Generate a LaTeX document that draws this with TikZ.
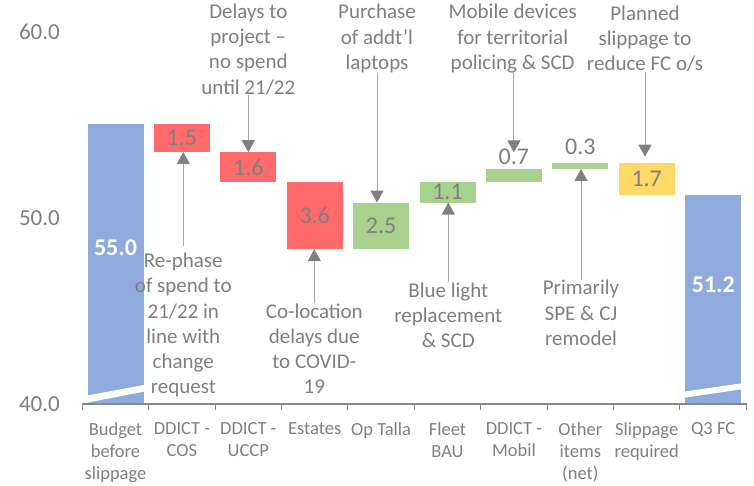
\documentclass[tikz,border=0pt]{standalone}
\usepackage{fontspec}
\setmainfont{Carlito}
\usetikzlibrary{arrows.meta,fit}
\definecolor{cblue}{HTML}{8FAADC}
\definecolor{cred}{HTML}{FF6B6B}
\definecolor{cgreen}{HTML}{A9D18E}
\definecolor{cyellow}{HTML}{FFD966}
\definecolor{tgray}{HTML}{7F7F7F}
\definecolor{lgray}{HTML}{A6A6A6}
\definecolor{agray}{HTML}{898989}
\begin{document}
\begin{tikzpicture}[x=1pt,y=-1pt,
  bar/.style={inner sep=0pt, outer sep=0pt, draw=none},
  val/.style={text=tgray, font=\fontsize{24}{29}\selectfont, inner sep=0pt},
  big/.style={text=white, font=\bfseries\fontsize{24}{29}\selectfont, inner sep=0pt},
  ann/.style={text=tgray, align=center, font=\fontsize{21}{25.2}\selectfont, inner sep=0pt},
  cat/.style={text=tgray, align=center, anchor=north, font=\fontsize{18.5}{22.3}\selectfont, inner sep=0pt},
  ylab/.style={text=tgray, anchor=east, font=\fontsize{23}{28}\selectfont, inner sep=0pt},
  arr/.style={draw=lgray, line width=0.9pt, -{Triangle[width=13pt,length=12pt,color=tgray,fill=tgray]}},
  brk/.style={fill=white, draw=none},
]
\useasboundingbox (0,0) rectangle (754,486);
% bars
\node[bar, fill=cblue,   fit={(87.5,124.25)(143.5,405)}] (b1) {};
\node[bar, fill=cred,    fit={(153.9,124.25)(209.9,152.2)}] (b2) {};
\node[bar, fill=cred,    fit={(220.3,152.2)(276.3,182.1)}] (b3) {};
\node[bar, fill=cred,    fit={(286.7,182.1)(342.7,249.2)}] (b4) {};
\node[bar, fill=cgreen,  fit={(353.1,202.6)(409.1,249.2)}] (b5) {};
\node[bar, fill=cgreen,  fit={(419.5,182.1)(475.5,202.6)}] (b6) {};
\node[bar, fill=cgreen,  fit={(485.9,169.0)(541.9,182.1)}] (b7) {};
\node[bar, fill=cgreen,  fit={(552.3,163.4)(608.3,169.0)}] (b8) {};
\node[bar, fill=cyellow, fit={(618.7,163.4)(674.7,195.1)}] (b9) {};
\node[bar, fill=cblue,   fit={(685.1,195.1)(741.1,405)}] (b10) {};
% axis breaks
\fill[brk] (87,395.5) -- (144,385) -- (144,391.7) -- (87,402.7) -- cycle;
\fill[brk] (684.6,391.5) -- (741.6,383.3) -- (741.6,389.3) -- (684.6,397.7) -- cycle;
% axis
\draw[agray, line width=2pt] (82.3,404) -- (747,404);
\foreach \i in {0,...,10} { \draw[agray, line width=1pt] (82.3+66.4*\i,404) -- (82.3+66.4*\i,410); }
% y labels
\node[ylab] (y60) at (60,31.5) {60.0};
\node[ylab] (y50) at (60,218.3) {50.0};
\node[ylab] (y40) at (60,403.7) {40.0};
% values
\node[big] (v1) at (115.5,248) {55.0};
\node[val] (v2) at (b2) {1.5};
\node[val] (v3) at (b3) {1.6};
\node[val] (v4) at (b4) {3.6};
\node[val] (v5) at (b5) {2.5};
\node[val] (v6) at (b6) {1.1};
\node[val] (v7) at (513.9,157) {0.7};
\node[val] (v8) at (580.3,146.7) {0.3};
\node[val] (v9) at (b9) {1.7};
\node[big] (v10) at (713.3,284.3) {51.2};
% categories
\node[cat] (c1) at (115.5,422) {Budget\\before\\slippage};
\node[cat] (c2) at (181.9,422) {DDICT -\\COS};
\node[cat] (c3) at (248.3,422) {DDICT -\\UCCP};
\node[cat] (c4) at (314.7,422) {Estates};
\node[cat] (c5) at (381.1,422) {Op Talla};
\node[cat] (c6) at (447.5,422) {Fleet\\BAU};
\node[cat] (c7) at (513.9,422) {DDICT -\\Mobil};
\node[cat] (c8) at (580.3,422) {Other\\items\\(net)};
\node[cat] (c9) at (646.7,422) {Slippage\\required};
\node[cat] (c10) at (713.1,422) {Q3 FC};
% annotations
\node[ann] (a1) at (248.3,49.5) {Delays to\\project –\\no spend\\until 21/22};
\node[ann] (a2) at (377,38.5) {Purchase\\of addt’l\\laptops};
\node[ann] (a3) at (512.7,38.7) {Mobile devices\\for territorial\\policing \& SCD};
\node[ann] (a4) at (645,38.7) {Planned\\slippage to\\reduce FC o/s};
\node[ann] (a5) at (183.3,325) {Re-phase\\of spend to\\21/22 in\\line with\\change\\request};
\node[ann] (a6) at (314.3,348.7) {Co-location\\delays due\\to COVID-\\19};
\node[ann] (a7) at (448.3,315) {Blue light\\replacement\\\& SCD};
\node[ann] (a8) at (581,312.8) {Primarily\\SPE \& CJ\\remodel};
% arrows
\draw[arr] (a1.south) -- (a1.south |- b3.north);
\draw[arr] (a2.south) -- (a2.south |- b5.north);
\draw[arr] (b7 |- a3.south) -- ([yshift=-3.5pt]b7 |- v7.north);
\draw[arr] (a4.south) -- ([yshift=6.7pt]a4.south |- b9.north);
\draw[arr] ([yshift=7pt]a5.north) -- (a5.north |- b2.south);
\draw[arr] (a6.north) -- (a6.north |- b4.south);
\draw[arr] (a7.north) -- (a7.north |- b6.south);
\draw[arr] (a8.north) -- (a8.north |- b8.south);
\end{tikzpicture}
\end{document}
